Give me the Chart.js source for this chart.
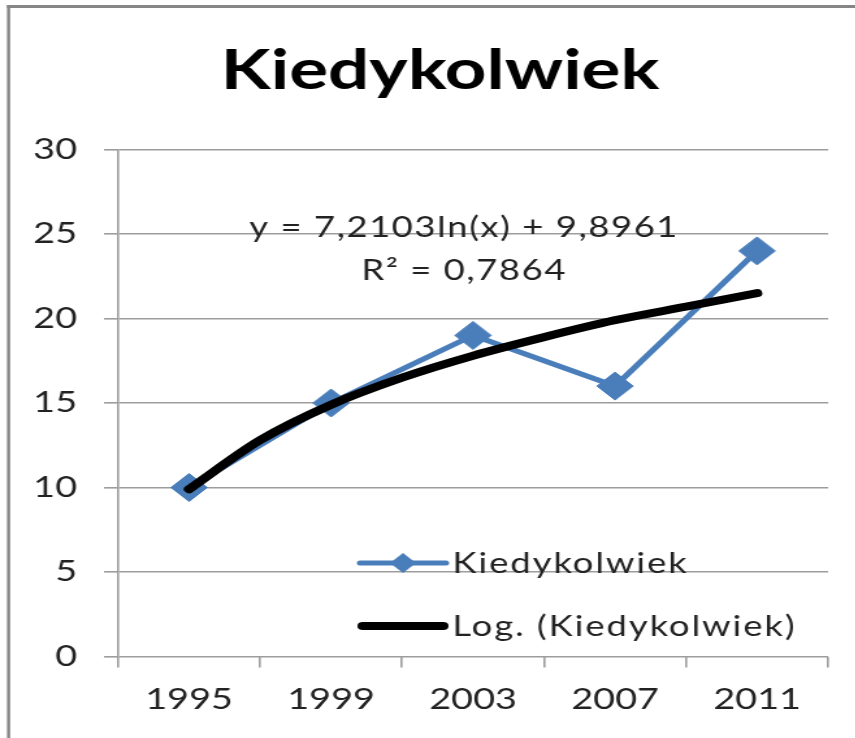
<!DOCTYPE html>
<html>
<head>
<meta charset="utf-8">
<script src="https://cdn.jsdelivr.net/npm/chart.js@4.4.0/dist/chart.umd.min.js"></script>
<style>
    html, body { margin: 0; padding: 0; background: #fff; overflow: hidden; }
    /* the reference is stretched sideways, so draw narrow and widen */
    #wrap { width: 658px; height: 738px; transform: scaleX(1.3); transform-origin: 0 0; }
</style>
</head>
<body>
<div id="wrap"><canvas id="chart" width="658" height="738"></canvas></div>
<script>
const years = ['1995', '1999', '2003', '2007', '2011'];
const values = [10, 15, 19, 16, 24];
// logarithmic trend line, every half step (1 = 1995 ... 5 = 2011)
const trendX = [1, 1.5, 2, 2.5, 3, 3.5, 4, 4.5, 5];
const trendY = [9.9, 12.8, 14.9, 16.5, 17.8, 18.9, 19.9, 20.7, 21.5];
const yTicks = [0, 5, 10, 15, 20, 25, 30];
const chartTitle = 'Kiedykolwiek';
const seriesName = 'Kiedykolwiek';
const trendName = 'Log. (Kiedykolwiek)';
const equationLines = ['y = 7,2103ln(x) + 9,8961', 'R² = 0,7864'];

const blue = '#4A7EBB';
const gridGray = '#9d9d9d';
const textColor = '#222';

// frame, title, trend equation and the legend inside the plot
const overlay = {
    id: 'overlay',
    beforeDraw(chart) {
        const ctx = chart.ctx;
        ctx.save();
        ctx.fillStyle = '#868686';
        ctx.fillRect(5.4, 5, 2.4, 733);
        ctx.fillRect(5.4, 5, 660, 3);

        ctx.fillStyle = '#000';
        ctx.font = 'bold 56px Lato';
        ctx.textAlign = 'center';
        ctx.textBaseline = 'middle';
        ctx.fillText(chartTitle, 338.5, 70.6);
        ctx.restore();
    },
    afterDraw(chart) {
        const ctx = chart.ctx;
        ctx.save();
        ctx.fillStyle = textColor;
        ctx.font = '28px Lato';
        ctx.letterSpacing = '1.2px';
        ctx.textAlign = 'center';
        ctx.textBaseline = 'alphabetic';
        ctx.fillText(equationLines[0], 357, 237);
        ctx.fillText(equationLines[1], 357, 280);

        // legend: series
        ctx.strokeStyle = blue;
        ctx.lineWidth = 5;
        ctx.lineCap = 'round';
        ctx.beginPath();
        ctx.moveTo(277, 563);
        ctx.lineTo(343, 563);
        ctx.stroke();
        ctx.fillStyle = blue;
        ctx.beginPath();
        ctx.moveTo(310, 553);
        ctx.lineTo(320, 563);
        ctx.lineTo(310, 573);
        ctx.lineTo(300, 563);
        ctx.closePath();
        ctx.fill();

        // legend: trend
        ctx.strokeStyle = '#000';
        ctx.lineWidth = 8;
        ctx.beginPath();
        ctx.moveTo(279, 626);
        ctx.lineTo(341, 626);
        ctx.stroke();

        ctx.fillStyle = textColor;
        ctx.font = '28px Lato';
        ctx.letterSpacing = '1.5px';
        ctx.textAlign = 'left';
        ctx.fillText(seriesName, 348, 573);
        ctx.fillText(trendName, 348, 636);
        ctx.restore();
    }
};

new Chart(document.getElementById('chart'), {
    type: 'line',
    data: {
        labels: years,
        datasets: [{
            label: trendName,
            data: trendX.map((x, i) => ({ x: x, y: trendY[i] })),
            xAxisID: 'xt',
            borderColor: '#000',
            borderWidth: 8,
            borderCapStyle: 'round',
            pointRadius: 0,
            cubicInterpolationMode: 'monotone',
            order: 0
        }, {
            label: seriesName,
            data: values,
            borderColor: blue,
            backgroundColor: blue,
            borderWidth: 5,
            pointStyle: 'rectRot',
            pointRadius: 14,
            pointBorderWidth: 1,
            tension: 0,
            order: 1
        }]
    },
    options: {
        responsive: false,
        animation: false,
        layout: { padding: { left: 0, right: 21, top: 149.5, bottom: 0 } },
        plugins: {
            legend: { display: false },
            tooltip: { enabled: false }
        },
        scales: {
            x: {
                offset: true,
                grid: { offset: true, drawOnChartArea: false, drawTicks: true, tickLength: 11, color: gridGray, lineWidth: 1.6 },
                border: { display: false },
                ticks: { color: textColor, font: { family: 'Lato', size: 29 }, padding: 15, maxRotation: 0 },
                afterFit(scale) { scale.height = 81.5; }
            },
            xt: {
                type: 'linear',
                display: false,
                min: 0.5,
                max: 5.5
            },
            y: {
                min: 0,
                max: 30,
                afterBuildTicks(scale) { scale.ticks = yTicks.map(v => ({ value: v })); },
                grid: { color: gridGray, lineWidth: 1.6, tickLength: 10.8 },
                border: { display: true, color: gridGray, width: 1.6 },
                ticks: { color: textColor, font: { family: 'Lato', size: 29 }, padding: 20.8 },
                afterFit(scale) { scale.width = 90.8; }
            }
        }
    },
    plugins: [overlay]
});
</script>
</body>
</html>
